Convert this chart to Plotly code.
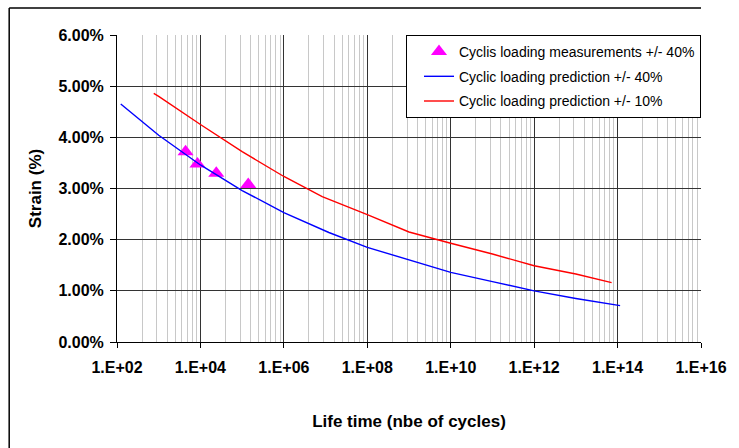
import plotly.graph_objects as go

# ---- data ----
meas_cycles = [4.4e3, 8.5e3, 2.4e4, 1.4e5]
meas_strain = [0.0372, 0.0348, 0.0330, 0.0308]

pred40_cycles = [1.23e2, 1e3, 1e4, 1e5, 1e6, 1.2e7, 1e8, 1e9, 1e10, 1e11, 1e12, 1e13, 1e14, 1.15e14]
pred40_strain = [0.0465, 0.0404, 0.0346, 0.0296, 0.0253, 0.0214, 0.0185, 0.0160, 0.0136, 0.0118, 0.0100, 0.0085, 0.0073, 0.0071]

pred10_cycles = [7.6e2, 1e3, 1e4, 1e5, 1e6, 8.3e6, 1e8, 1e9, 1e10, 1e11, 1e12, 1e13, 7.2e13]
pred10_strain = [0.0486, 0.0480, 0.0425, 0.0372, 0.03235, 0.0284, 0.0249, 0.0215, 0.0193, 0.0172, 0.0149, 0.0133, 0.0116]

x_tick_vals = [1e2, 1e4, 1e6, 1e8, 1e10, 1e12, 1e14, 1e16]
x_tick_text = ["1.E+02", "1.E+04", "1.E+06", "1.E+08", "1.E+10", "1.E+12", "1.E+14", "1.E+16"]

names = ["Cyclis loading measurements +/- 40%",
         "Cyclic loading prediction +/- 40%",
         "Cyclic loading prediction +/- 10%"]

# minor grid positions (Excel log-base-100 style minor lines)
minor_vals = [v * k * k for v in x_tick_vals[:-1] for k in range(2, 10)]

FONT = "Liberation Sans, Arial, sans-serif"

fig = go.Figure()
fig.add_trace(go.Scatter(x=meas_cycles, y=meas_strain, mode="markers", name=names[0],
                         legendgroup="a",
                         marker=dict(symbol="triangle-up", size=14, color="#FF00FF")))
fig.add_trace(go.Scatter(x=pred40_cycles, y=pred40_strain, mode="lines", name=names[1],
                         legendgroup="b",
                         line=dict(color="#0000FF", width=1.4)))
fig.add_trace(go.Scatter(x=pred10_cycles, y=pred10_strain, mode="lines", name=names[2],
                         legendgroup="c",
                         line=dict(color="#FF0000", width=1.4)))

fig.update_layout(
    width=739, height=448,
    margin=dict(l=117, r=26, t=35, b=106),
    paper_bgcolor="white", plot_bgcolor="white",
    font=dict(family=FONT, color="black"),
    showlegend=True,
    legend=dict(x=1, xanchor="right", y=1, yanchor="top",
                bgcolor="white", bordercolor="black", borderwidth=1,
                font=dict(size=14, family=FONT, color="black"),
                tracegroupgap=3.5, indentation=12),
    shapes=[
        dict(type="line", xref="paper", yref="paper",
             x0=-0.1846, x1=-0.1846, y0=-0.345, y1=1.088,
             line=dict(color="black", width=1.5), layer="below"),
        dict(type="line", xref="paper", yref="paper",
             x0=-0.1846, x1=1.0, y0=1.088, y1=1.088,
             line=dict(color="black", width=1.5), layer="below"),
    ],
)

fig.update_xaxes(
    type="log", range=[2, 16],
    tickmode="array", tickvals=x_tick_vals, ticktext=x_tick_text,
    ticks="outside", ticklen=5, tickcolor="black", tickwidth=1,
    ticklabelstandoff=6,
    showline=True, linecolor="black", linewidth=1,
    showgrid=True, gridcolor="#333333", gridwidth=1,
    minor=dict(tickmode="array", tickvals=minor_vals, showgrid=True,
               gridcolor="#c8c8c8", gridwidth=1, ticks=""),
    tickfont=dict(size=16, family=FONT, weight="bold"),
    title=dict(text="Life time (nbe of cycles)", standoff=39,
               font=dict(size=17, family=FONT, weight="bold")),
    zeroline=False,
)
fig.update_yaxes(
    range=[0, 0.06], dtick=0.01, tick0=0, tickformat=".2%",
    ticks="outside", ticklen=6, tickcolor="black", tickwidth=1,
    ticklabelstandoff=3,
    showline=True, linecolor="black", linewidth=1,
    showgrid=True, gridcolor="#333333", gridwidth=1,
    tickfont=dict(size=16, family=FONT, weight="bold"),
    title=dict(text="Strain (%)", standoff=12,
               font=dict(size=17, family=FONT, weight="bold")),
    zeroline=False,
)

fig.write_html("out.html")
